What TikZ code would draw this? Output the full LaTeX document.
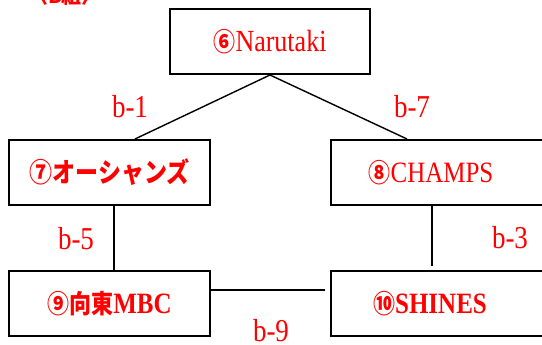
\documentclass[tikz,border=0pt]{standalone}
\usepackage{graphicx}
\usepackage{fontspec}
\setmainfont{Liberation Serif}
\newfontfamily\jpfont{Noto Sans CJK JP}
\newcommand{\tall}[1]{\scalebox{1}[1.18]{#1}}
\begin{document}
\begin{tikzpicture}[x=1pt,y=-1pt,
  team/.style={draw=black,line width=2pt,minimum height=65pt,inner sep=0pt,font=\fontsize{24}{26}\selectfont\bfseries,text=red},
  lbl/.style={text=red,font=\fontsize{27}{29}\selectfont,inner sep=0pt},
  conn/.style={line width=1.4pt,black}]
\useasboundingbox (0,0) rectangle (542,345);
\clip (0,0) rectangle (542,345);
\fill[white] (0,0) rectangle (542,345);
\node[text=red,font=\jpfont\bfseries\fontsize{20}{22}\selectfont,inner sep=0pt] (title) at (65,-4) {〈B組〉};
\node[team,minimum width=200pt] (n6) at (270,41.5) {\tall{{\jpfont\fontsize{22}{24}\selectfont ⑥}\mdseries\fontsize{26}{28}\selectfont Narutaki}};
\node[team,minimum width=201pt,font=\fontsize{23}{25}\selectfont\bfseries] (n7) at (109.5,172.5) {\tall{\jpfont ⑦オーシャンズ}};
\node[team,minimum width=230pt,anchor=west] (n8) at (330,172.5) {};
\node[text=red,font=\fontsize{25}{27}\selectfont] (t8) at (431,172.5) {\tall{{\jpfont\bfseries\fontsize{22}{24}\selectfont ⑧}CHAMPS}};
\node[team,minimum width=201pt] (n9) at (109.5,303.5) {\tall{{\jpfont\fontsize{22}{24}\selectfont ⑨向東}\fontsize{25}{27}\selectfont MBC}};
\node[team,minimum width=230pt,anchor=west] (n10) at (330,303.5) {};
\node[text=red,font=\fontsize{25}{27}\selectfont\bfseries] (t10) at (430,303.5) {\tall{{\jpfont\fontsize{22}{24}\selectfont ⑩}SHINES}};
\coordinate (a7) at (135,139);
\coordinate (a8) at (407,139);
\draw[conn] (n6.south) -- (a7);
\draw[conn] (n6.south) -- (a8);
\draw[conn] (n7.south -| 114,0) -- (n9.north -| 114,0);
\draw[conn] (n8.south -| 432,0) -- ([yshift=4pt]n10.north -| 432,0);
\coordinate (e10) at (325,290);
\draw[conn] (n9.east |- 0,290) -- (e10);
\node[lbl] (b1) at (130,107) {\tall{b-1}};
\node[lbl] (b7) at (412,107) {\tall{b-7}};
\node[lbl] (b5) at (76,239) {\tall{b-5}};
\node[lbl] (b3) at (510,238) {\tall{b-3}};
\node[lbl] (b9) at (271,331) {\tall{b-9}};
\end{tikzpicture}
\end{document}
